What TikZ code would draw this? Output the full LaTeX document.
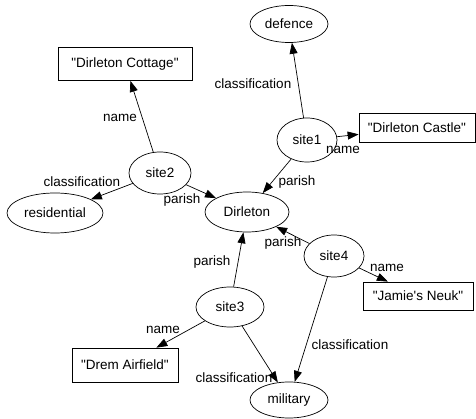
\documentclass[tikz,border=0pt]{standalone}
\usepackage{fontspec}
\setmainfont{Liberation Sans}
\usetikzlibrary{shapes.geometric,arrows.meta}
\begin{document}
\begin{tikzpicture}[x=1pt,y=-1pt,
  font=\fontsize{13.5}{15}\selectfont,
  res/.style={draw,ellipse,inner sep=0pt,line width=0.7pt},
  lit/.style={draw,rectangle,inner sep=0pt,line width=0.7pt},
  rel/.style={-{Triangle[length=11pt,width=8pt]},line width=0.7pt},
  lbl/.style={inner sep=0pt}]
\useasboundingbox (0,0) rectangle (476,419);
% resources
\node[res,minimum width=78pt,minimum height=37pt] (defence) at (289,24) {defence};
\node[res,minimum width=60pt,minimum height=44pt] (site1) at (307,140) {site1};
\node[res,minimum width=84pt,minimum height=40pt] (dirleton) at (247,212) {Dirleton};
\node[res,minimum width=62pt,minimum height=42pt] (site2) at (160,173) {site2};
\node[res,minimum width=96pt,minimum height=40pt] (residential) at (55,213) {residential};
\node[res,minimum width=68pt,minimum height=40pt] (site3) at (230,307) {site3};
\node[res,minimum width=60pt,minimum height=42pt] (site4) at (334,256) {site4};
\node[res,minimum width=78pt,minimum height=36pt] (military) at (289,400) {military};
% literals
\node[lit,minimum width=116pt,minimum height=29pt] (castle) at (417,128) {\textquotedbl Dirleton Castle\textquotedbl};
\node[lit,minimum width=134pt,minimum height=33pt] (cottage) at (125,64) {\textquotedbl Dirleton Cottage\textquotedbl};
\node[lit,minimum width=106pt,minimum height=34pt] (drem) at (125,365) {\textquotedbl Drem Airfield\textquotedbl};
\node[lit,minimum width=110pt,minimum height=28pt] (neuk) at (418,296) {\textquotedbl Jamie\textquotesingle s Neuk\textquotedbl};
% edges
\draw[rel] (site1) -- (defence);
\draw[rel] (site1) -- (castle);
\draw[rel] (site1) -- (dirleton);
\draw[rel] (site2) -- (cottage);
\draw[rel] (site2) -- (residential);
\draw[rel] (site2) -- (dirleton);
\draw[rel] (site3) -- (dirleton);
\draw[rel] (site3) -- (drem);
\draw[rel] (site3) -- (military);
\draw[rel] (site4) -- (dirleton);
\draw[rel] (site4) -- (neuk);
\draw[rel] (site4) -- (military);
% labels
\node[lbl] (l1) at (253,84) {classification};
\node[lbl] (l2) at (343,150) {name};
\node[lbl] (l3) at (297,182) {parish};
\node[lbl] (l4) at (120,118) {name};
\node[lbl] (l5) at (82,182) {classification};
\node[lbl] (l6) at (182,200) {parish};
\node[lbl] (l7) at (212,262) {parish};
\node[lbl] (l8) at (163,330) {name};
\node[lbl] (l9) at (234,378) {classification};
\node[lbl] (l10) at (283,243) {parish};
\node[lbl] (l11) at (387,268) {name};
\node[lbl] (l12) at (350,345) {classification};
\end{tikzpicture}
\end{document}
